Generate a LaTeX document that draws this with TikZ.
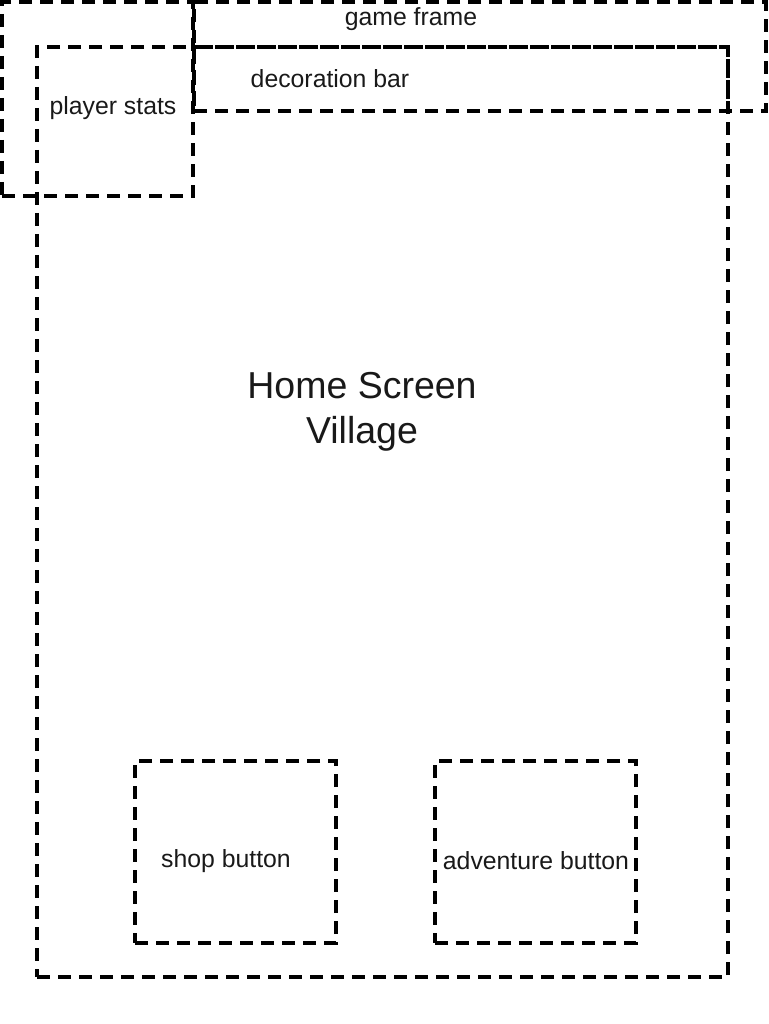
\documentclass[tikz,border=0pt]{standalone}
\usepackage{fontspec}
\setmainfont{Liberation Sans}
\begin{document}
\begin{tikzpicture}[x=1pt,y=-1pt,
  box/.style={draw=black, line width=3.5pt, dash pattern=on 13pt off 8pt, inner sep=0pt, outer sep=0pt},
  lbl/.style={font=\fontsize{24.8}{29}\selectfont, text=black!90, inner sep=0pt},
  big/.style={font=\fontsize{37.5}{45}\selectfont, text=black!90, align=center, inner sep=0pt}]
\useasboundingbox (0,0) rectangle (768,1024);
% boxes (centre, size)
\node[box, minimum width=191pt, minimum height=194pt] (statsframe) at (97.5,99) {};
\node[box, minimum width=572pt, minimum height=109pt] (gameframe) at (480,56.5) {};
\node[box, minimum width=691pt, minimum height=930pt] (home) at (382.5,512) {};
\node[box, minimum width=534pt, minimum height=64pt] (decor) at (461,79) {};
\node[box, minimum width=201pt, minimum height=182pt] (shop) at (235.5,852) {};
\node[box, minimum width=201pt, minimum height=182pt] (adv) at (535.5,852) {};
% labels
\node[lbl] (tgame) at (411,19) {game frame};
\node[lbl] (tdecor) at (330,79) {decoration bar};
\node[lbl] (tstats) at (113,108) {player stats};
\node[big] (thome) at (362,412) {Home Screen\\Village};
\node[lbl] (tshop) at (226,861) {shop button};
\node[lbl] (tadv) at (536,861) {adventure button};
\end{tikzpicture}
\end{document}
